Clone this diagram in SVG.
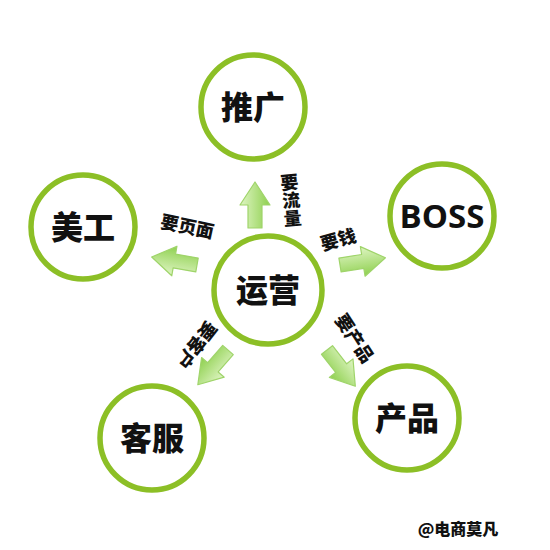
<svg xmlns="http://www.w3.org/2000/svg" width="550" height="550" viewBox="0 0 550 550">
<style>
.ring{fill:#fff;stroke:#8cbf26;stroke-width:5.5}
.big{font-family:"Noto Sans CJK SC","Open Sans",sans-serif;font-weight:900;font-size:32px;fill:#111;text-anchor:middle}
.boss{font-family:"Open Sans","Liberation Sans",sans-serif;font-weight:700;font-size:33px;fill:#111;text-anchor:middle}
.lbl{font-family:"Noto Sans CJK SC",sans-serif;font-weight:900;font-size:18px;fill:#111;text-anchor:middle}
.arr{fill:url(#g);stroke:#9fd46a;stroke-width:1.2;stroke-linejoin:round}
</style>
<defs>
<linearGradient id="g" x1="0" y1="0" x2="0" y2="1">
<stop offset="0" stop-color="#dff5c4"/>
<stop offset="1" stop-color="#8ed04e"/>
</linearGradient>
<polygon id="a" points="0,-7 23,-7 23,-15 46,0 23,15 23,7 0,7"/>
</defs>
<rect width="550" height="550" fill="#fff"/>
<g id="connectors">
<use href="#a" class="arr" transform="translate(255,228) rotate(-90)"/>
<use href="#a" class="arr" transform="translate(197,265) rotate(190)"/>
<use href="#a" class="arr" transform="translate(340,265) rotate(-9)"/>
<use href="#a" class="arr" transform="translate(228,350) rotate(131)"/>
<use href="#a" class="arr" transform="translate(327,350) rotate(52)"/>
<text class="lbl" transform="translate(186,233) rotate(12)">要页面</text>
<text class="lbl" transform="translate(340,246) rotate(-15)">要钱</text>
<g transform="rotate(-5 291 200)">
<text class="lbl" x="291" y="189">要</text>
<text class="lbl" x="291" y="207">流</text>
<text class="lbl" x="291" y="225">量</text>
</g>
<text class="lbl" transform="translate(191,341) rotate(128)">要客户</text>
<text class="lbl" transform="translate(349,342) rotate(57)">要产品</text>
</g>
<g id="n-tuiguang"><circle class="ring" cx="253" cy="107" r="52"/><text class="big" x="253" y="119">推广</text></g>
<g id="n-meigong"><circle class="ring" cx="83" cy="227" r="52"/><text class="big" x="83" y="239">美工</text></g>
<g id="n-boss"><circle class="ring" cx="442" cy="216" r="52"/><text class="boss" x="442" y="228">BOSS</text></g>
<g id="n-yunying"><circle class="ring" cx="268" cy="290" r="54"/><text class="big" x="268" y="302">运营</text></g>
<g id="n-kefu"><circle class="ring" cx="152" cy="438" r="52"/><text class="big" x="152" y="450">客服</text></g>
<g id="n-chanpin"><circle class="ring" cx="407" cy="418" r="52"/><text class="big" x="407" y="430">产品</text></g>
<text x="458" y="535" font-family="Noto Sans CJK SC,sans-serif" font-weight="900" font-size="16" fill="#111" text-anchor="middle">@电商莫凡</text>
</svg>
